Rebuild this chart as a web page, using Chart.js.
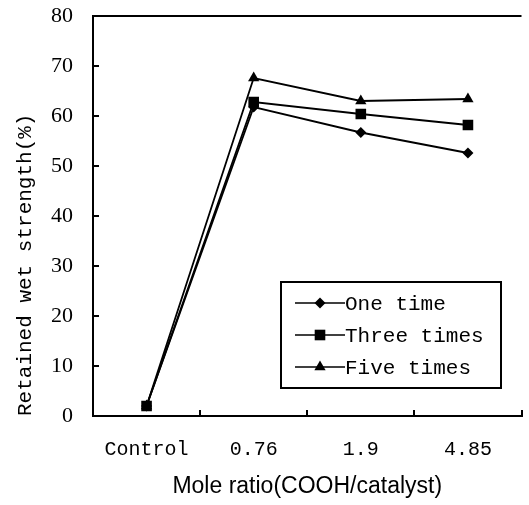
<!DOCTYPE html>
<html>
<head>
<meta charset="utf-8">
<script src="https://cdn.jsdelivr.net/npm/chart.js@4"></script>
<style>
  html, body { margin: 0; padding: 0; background: #fff; }
  #wrap { width: 529px; height: 505px; position: relative; }
</style>
</head>
<body>
<div id="wrap"><canvas id="chart"></canvas></div>
<script>
const categories = ['Control', '0.76', '1.9', '4.85'];
const oneTime = [2, 61.8, 56.7, 52.6];
const threeTimes = [2, 62.8, 60.4, 58.2];
const fiveTimes = [2, 67.6, 63.0, 63.4];
const yTicks = [0, 10, 20, 30, 40, 50, 60, 70, 80];

const MONO = '"Liberation Mono", "DejaVu Sans Mono", monospace';

// frame line along the top of the plot
const topLine = {
    id: 'topLine',
    afterDraw(chart) {
        const {ctx, chartArea} = chart;
        ctx.save();
        ctx.strokeStyle = '#000';
        ctx.lineWidth = 2;
        ctx.beginPath();
        ctx.moveTo(chartArea.left, chartArea.top);
        ctx.lineTo(chartArea.right, chartArea.top);
        ctx.stroke();
        ctx.restore();
    }
};

function marker(ctx, style, x, y, r) {
    ctx.beginPath();
    if (style === 'rect') {
        const s = r * Math.SQRT1_2;
        ctx.rect(x - s, y - s, 2 * s, 2 * s);
    } else if (style === 'rectRot') {
        ctx.moveTo(x, y - r);
        ctx.lineTo(x + r, y);
        ctx.lineTo(x, y + r);
        ctx.lineTo(x - r, y);
        ctx.closePath();
    } else {
        ctx.moveTo(x, y - r);
        ctx.lineTo(x + r * Math.sin(Math.PI / 3), y + r / 2);
        ctx.lineTo(x - r * Math.sin(Math.PI / 3), y + r / 2);
        ctx.closePath();
    }
    ctx.fill();
}

// boxed legend inside the plot, lower right
const boxLegend = {
    id: 'boxLegend',
    afterDraw(chart) {
        const {ctx, chartArea} = chart;
        const left = chartArea.left + 188;
        const top = chartArea.top + 266;
        const w = 220, h = 106;
        ctx.save();
        ctx.fillStyle = '#fff';
        ctx.fillRect(left, top, w, h);
        ctx.strokeStyle = '#000';
        ctx.lineWidth = 2;
        ctx.strokeRect(left, top, w, h);
        ctx.font = '21px ' + MONO;
        ctx.textBaseline = 'middle';
        ctx.textAlign = 'left';
        chart.data.datasets.forEach((ds, i) => {
            const y = top + 21 + i * 32;
            ctx.strokeStyle = '#000';
            ctx.lineWidth = 1.6;
            ctx.beginPath();
            ctx.moveTo(left + 14, y);
            ctx.lineTo(left + 64, y);
            ctx.stroke();
            ctx.fillStyle = '#000';
            marker(ctx, ds.pointStyle, left + 39, y, ds.pointRadius);
            ctx.fillText(ds.label, left + 64, y + 1);
        });
        ctx.restore();
    }
};

new Chart(document.getElementById('chart'), {
    type: 'line',
    data: {
        labels: categories,
        datasets: [
            {label: 'One time', data: oneTime, pointStyle: 'rectRot', pointRadius: 5.5, order: 2},
            {label: 'Three times', data: threeTimes, pointStyle: 'rect', pointRadius: 7.5, order: 0},
            {label: 'Five times', data: fiveTimes, pointStyle: 'triangle', pointRadius: 6.5, order: 1}
        ].map(d => Object.assign({
            borderColor: '#000',
            backgroundColor: '#000',
            pointBackgroundColor: '#000',
            pointBorderColor: '#000',
            pointBorderWidth: 0,
            borderWidth: 1.8,
            tension: 0
        }, d))
    },
    options: {
        responsive: true,
        maintainAspectRatio: false,
        animation: false,
        layout: {padding: {top: 16, right: 0, bottom: 0, left: 0}},
        plugins: {
            legend: {display: false},
            tooltip: {enabled: false}
        },
        scales: {
            x: {
                offset: true,
                afterFit(scale) { scale.height = 89; },
                border: {display: true, color: '#000', width: 2},
                grid: {
                    offset: true,
                    drawOnChartArea: false,
                    drawTicks: true,
                    tickLength: -6,
                    color: '#000',
                    lineWidth: 2
                },
                ticks: {
                    color: '#000',
                    padding: 28,
                    maxRotation: 0,
                    font: {family: MONO, size: 20}
                },
                title: {
                    display: true,
                    text: 'Mole ratio(COOH/catalyst)',
                    color: '#000',
                    padding: {top: 0, bottom: 5},
                    font: {family: '"Liberation Sans", Arial, sans-serif', size: 23}
                }
            },
            y: {
                min: 0,
                max: 80,
                afterFit(scale) {
                    scale.width = 93;
                    scale.paddingTop = 0;
                    scale.paddingBottom = 0;
                },
                afterBuildTicks(scale) { scale.ticks = yTicks.map(v => ({value: v})); },
                border: {display: true, color: '#000', width: 2},
                grid: {
                    drawOnChartArea: false,
                    drawTicks: true,
                    tickLength: -6,
                    color: '#000',
                    lineWidth: 2
                },
                ticks: {
                    color: '#000',
                    padding: 26,
                    font: {family: '"Liberation Serif", "DejaVu Serif", serif', size: 22}
                },
                title: {
                    display: true,
                    text: 'Retained wet strength(%)',
                    color: '#000',
                    align: 'start',
                    padding: {top: 13, bottom: 0},
                    font: {family: MONO, size: 21}
                }
            }
        }
    },
    plugins: [topLine, boxLegend]
});
</script>
</body>
</html>
